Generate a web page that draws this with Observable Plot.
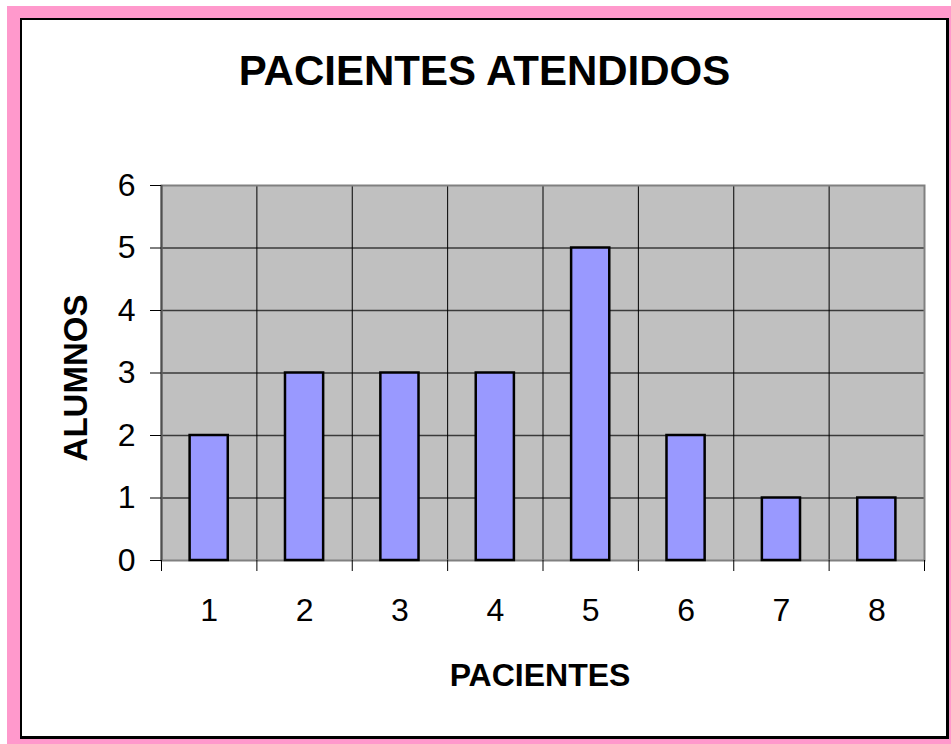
<!DOCTYPE html>
<html>
<head>
<meta charset="utf-8">
<script src="https://cdn.jsdelivr.net/npm/d3@7"></script>
<script src="https://cdn.jsdelivr.net/npm/@observablehq/plot@0.6"></script>
<style>
  html, body { margin: 0; padding: 0; background: #ffffff; }
  body { width: 951px; height: 744px; overflow: hidden; position: relative; font-family: "Liberation Sans", Arial, sans-serif; }
  #pink { position: absolute; left: 7px; top: 6px; width: 950px; height: 750px; background: #FF99CC; }
  #box { position: absolute; left: 20px; top: 18px; width: 929px; height: 721px; box-sizing: border-box;
         border-left: 2px solid #000; border-top: 2px solid #000; border-right: 3px solid #000; border-bottom: 3px solid #000;
         background: #ffffff; }
  #title { position: absolute; left: 20px; width: 929px; top: 50px; text-align: center; font-size: 42px; line-height: 42px;
           font-weight: bold; color: #000; }
  #chart { position: absolute; left: 0; top: 0; }
</style>
</head>
<body>
<div id="pink"></div>
<div id="box"></div>
<div id="title">PACIENTES ATENDIDOS</div>
<div id="chart"></div>
<script>
// Data
const pacientes = [1, 2, 3, 4, 5, 6, 7, 8];
const alumnos = [2, 3, 3, 3, 5, 2, 1, 1];
const yTicks = [0, 1, 2, 3, 4, 5, 6];
const xLabels = ["1", "2", "3", "4", "5", "6", "7", "8"];
const xTitle = "PACIENTES";
const yTitle = "ALUMNOS";

const data = pacientes.map((p, i) => ({p, n: alumnos[i]}));
const boundaries = [0.5, ...pacientes.map(p => p + 0.5)];
const innerBoundaries = boundaries.slice(1, -1);
const gridY = yTicks.slice(1, -1);
const halfBar = 0.2;

const chart = Plot.plot({
  width: 951,
  height: 744,
  marginLeft: 161,
  marginRight: 27,
  marginTop: 185,
  marginBottom: 184,
  style: { fontFamily: "'Liberation Sans', Arial, sans-serif", color: "#000", background: "transparent" },
  x: { type: "linear", domain: [boundaries[0], boundaries[boundaries.length - 1]] },
  y: { domain: [yTicks[0], yTicks[yTicks.length - 1]] },
  marks: [
    Plot.frame({ fill: "#C0C0C0" }),
    Plot.ruleY(gridY, { stroke: "#3a3a3a", strokeWidth: 1.3 }),
    Plot.ruleX(innerBoundaries, { stroke: "#000", strokeWidth: 1 }),
    Plot.frame({ stroke: "#808080", strokeWidth: 2 }),
    Plot.ruleX([boundaries[0]], { stroke: "#505050", strokeWidth: 2 }),
    Plot.rectY(data, { x1: d => d.p - halfBar, x2: d => d.p + halfBar, y1: 0, y2: "n", fill: "#9999FF", stroke: "#000", strokeWidth: 2.5 }),
    Plot.axisY({ ticks: yTicks, tickSize: 11, tickPadding: 15, fontSize: 32, label: null, tickFormat: d => String(d), stroke: "#000" }),
    Plot.axisX({ ticks: pacientes, tickSize: 0, tickPadding: 38, fontSize: 32, label: null, tickFormat: (d) => xLabels[pacientes.indexOf(d)] }),
    Plot.axisX({ ticks: boundaries, tickSize: 11, label: null, tickFormat: () => "", stroke: "#000" }),
    Plot.text([yTitle], { text: d => d, frameAnchor: "left", textAnchor: "middle", lineAnchor: "middle", rotate: -90, dx: -85, dy: 5, fontSize: 33, fontWeight: "bold", fill: "#000" }),
    Plot.text([xTitle], { text: d => d, frameAnchor: "bottom", textAnchor: "middle", lineAnchor: "middle", dx: -3, dy: 115, fontSize: 32, fontWeight: "bold", fill: "#000" })
  ]
});
document.getElementById("chart").appendChild(chart);
</script>
</body>
</html>
